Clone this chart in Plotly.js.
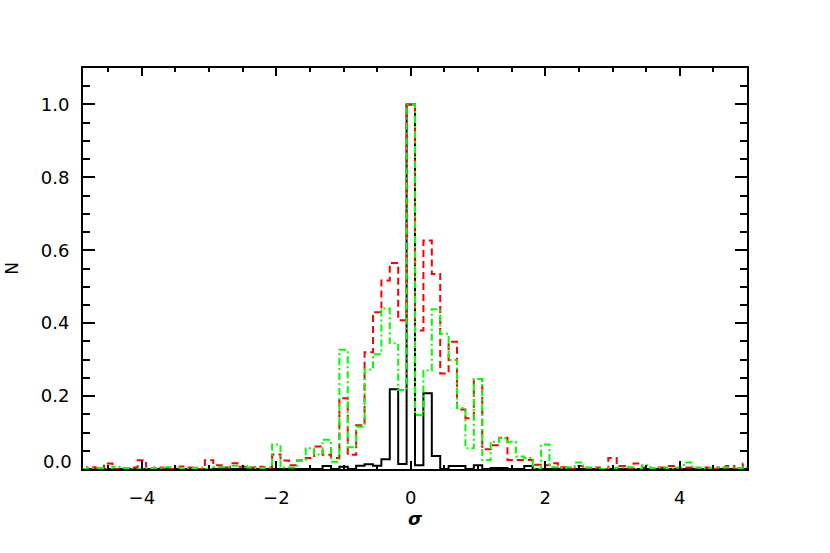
<!DOCTYPE html>
<html>
<head>
<meta charset="utf-8">
<script src="https://cdn.plot.ly/plotly-3.0.1.min.js"></script>
<style>html,body{margin:0;padding:0;background:#fff;}#chart{width:830px;height:553px;}</style>
</head>
<body>
<div id="chart"></div>
<script>
// bin centres (sigma)
var sigma = [-4.875,-4.75,-4.625,-4.5,-4.375,-4.25,-4.125,-4.0,-3.875,-3.75,-3.625,-3.5,-3.375,-3.25,-3.125,-3.0,
-2.875,-2.75,-2.625,-2.5,-2.375,-2.25,-2.125,-2.0,-1.875,-1.75,-1.625,-1.5,-1.375,-1.25,-1.125,-1.0,
-0.875,-0.75,-0.625,-0.5,-0.375,-0.25,-0.125,0.0,0.125,0.25,0.375,0.5,0.625,0.75,0.875,1.0,
1.125,1.25,1.375,1.5,1.625,1.75,1.875,2.0,2.125,2.25,2.375,2.5,2.625,2.75,2.875,3.0,
3.125,3.25,3.375,3.5,3.625,3.75,3.875,4.0,4.125,4.25,4.375,4.5,4.625,4.75,4.875,5.0];

var nBlack = [0,0,0,0,0,0,0,0,0,0,
0,0,0,0,0,0,0,0,0,0,
0,0,0,0,0,0,0,0,0,0.008,
0,0.006,0,0.009,0.013,0.009,0.027,0.219,0.014,1.0,
0.01,0.208,0.036,0,0.008,0.008,0,0.01,0,0.003,
0.003,0,0,0.008,0,0,0,0,0,0,
0,0,0,0,0,0,0,0,0,0,
0,0,0,0,0,0,0,0,0,0];

var nRed = [0,0.005,0,0.015,0,0,0.004,0.024,0,0.004,
0,0,0.007,0.004,0,0.024,0.01,0.004,0.016,0.006,
0.004,0.006,0.004,0.04,0.023,0.01,0.023,0.03,0.062,0.039,
0.03,0.194,0.039,0.12,0.32,0.43,0.517,0.565,0.408,1.0,
0.38,0.627,0.535,0.262,0.349,0.163,0.139,0.247,0.054,0.065,
0.086,0.025,0.025,0.025,0.012,0.01,0.016,0.005,0,0.008,
0,0.004,0,0.03,0.008,0,0.015,0.004,0,0.004,
0.008,0,0.004,0,0.004,0,0.004,0.008,0,0.015];

var nGreen = [0,0.003,0.003,0,0.006,0.003,0,0,0.003,0.003,
0.005,0.005,0,0.003,0.004,0,0.005,0.005,0.009,0.009,
0.004,0.003,0.004,0.067,0.004,0.004,0.025,0.057,0.04,0.08,
0.02,0.327,0.06,0.116,0.273,0.315,0.44,0.345,0.217,1.0,
0.148,0.27,0.438,0.371,0.299,0.167,0.057,0.247,0.025,0.075,
0.085,0.075,0.034,0.03,0,0.067,0.005,0.003,0.005,0.018,
0.004,0.004,0,0.003,0.004,0.005,0,0.01,0.003,0.004,
0,0.004,0.018,0.004,0,0.003,0.004,0.004,0.003,0.005];

var yTickVals = [0,0.2,0.4,0.6,0.8,1.0];
var yTickText = ['','0.2','0.4','0.6','0.8','1.0'];
var xTickVals = [-4,-2,0,2,4];
var xTickText = ['\u22124','\u22122','0','2','4'];

var traces = [
  {x: sigma, y: nBlack, type:'scatter', mode:'lines', line:{shape:'hvh', color:'#000000', width:2}, hoverinfo:'skip'},
  {x: sigma, y: nRed, type:'scatter', mode:'lines', line:{shape:'hvh', color:'#ff0000', width:2, dash:'7px,4px'}, hoverinfo:'skip'},
  {x: sigma, y: nGreen, type:'scatter', mode:'lines', line:{shape:'hvh', color:'#00ff00', width:2, dash:'7px,3px,2px,3px'}, hoverinfo:'skip'}
];

var fnt = {family:'DejaVu Sans, sans-serif', size:18, color:'#000'};
var layout = {
  width:830, height:553,
  margin:{l:83, r:83, t:68, b:84},
  paper_bgcolor:'#fff', plot_bgcolor:'#fff',
  showlegend:false,
  font: fnt,
  xaxis:{
    range:[-4.875,5], showgrid:false, zeroline:false,
    showline:true, linecolor:'#000', linewidth:2, mirror:'allticks',
    ticks:'inside', ticklen:8, tickwidth:2, tickcolor:'#000',
    tickvals:xTickVals, ticktext:xTickText, tickfont:fnt, ticklabelstandoff:11,
    minor:{ticks:'inside', ticklen:4, tickwidth:2, tickcolor:'#000', dtick:0.5, tick0:0, showgrid:false},
    title:{text:'<b><i>\u03c3</i></b>', font:{family:'DejaVu Sans, sans-serif', size:18, color:'#000'}, standoff:6}
  },
  yaxis:{
    range:[0,1.1], showgrid:false, zeroline:false,
    showline:true, linecolor:'#000', linewidth:2, mirror:'allticks',
    ticks:'inside', ticklen:12, tickwidth:2, tickcolor:'#000',
    tickvals:yTickVals, ticktext:yTickText, tickfont:fnt, ticklabelstandoff:8,
    minor:{ticks:'inside', ticklen:7, tickwidth:2, tickcolor:'#000', dtick:0.05, tick0:0, showgrid:false},
    title:{text:'N', font:{family:'DejaVu Sans, sans-serif', size:17, color:'#000'}, standoff:18}
  },
  annotations:[
    {xref:'paper', yref:'y', x:0, y:0.02, xanchor:'right', yanchor:'middle', xshift:-9, text:'0.0', showarrow:false, font:fnt}
  ]
};
Plotly.newPlot('chart', traces, layout, {staticPlot:true, displayModeBar:false});
</script>
</body>
</html>
